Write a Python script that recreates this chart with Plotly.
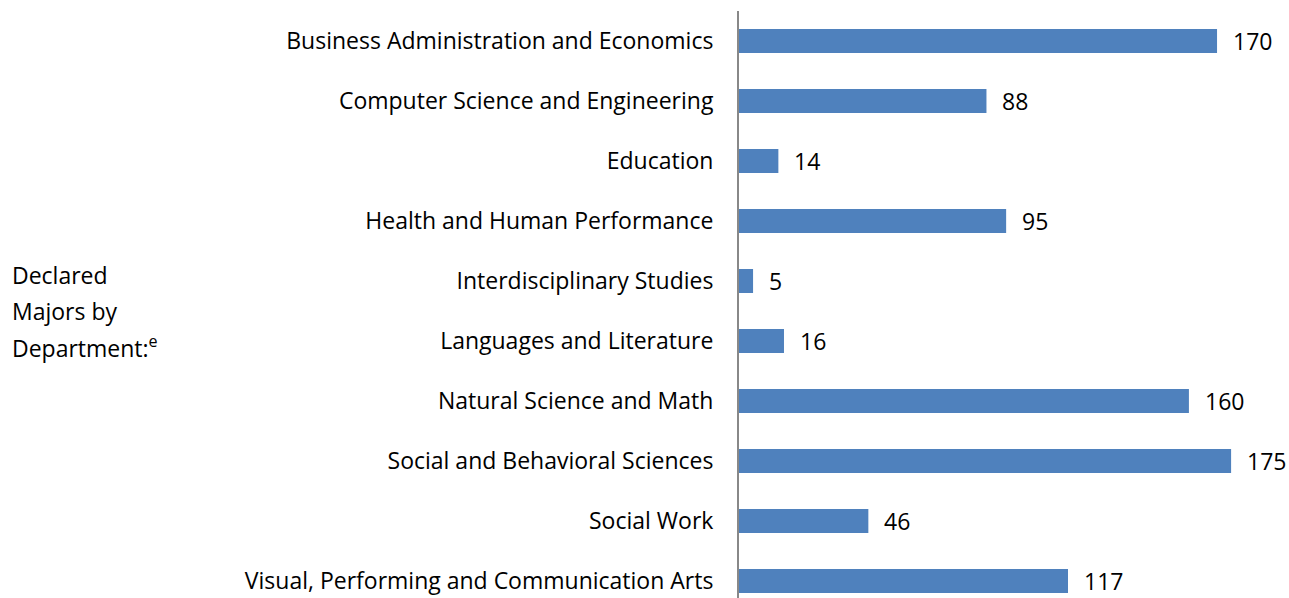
import plotly.graph_objects as go

categories = [
    "Business Administration and Economics",
    "Computer Science and Engineering",
    "Education",
    "Health and Human Performance",
    "Interdisciplinary Studies",
    "Languages and Literature",
    "Natural Science and Math",
    "Social and Behavioral Sciences",
    "Social Work",
    "Visual, Performing and Communication Arts",
]
values = [170, 88, 14, 95, 5, 16, 160, 175, 46, 117]
title_lines = ["Declared", "Majors by", "Department:<sup>e</sup>"]

FONT = "Open Sans"
FS = 23
W, H = 1289, 598
L, T = 739, 11
PW, PH = W - L, H - T
PX_PER_CAT = 60
span = PH / PX_PER_CAT

fig = go.Figure(go.Bar(
    x=values, y=categories, orientation="h",
    marker=dict(color="#4F81BD", line=dict(width=0)),
    width=0.4, hoverinfo="x+y",
))

for c, v in zip(categories, values):
    fig.add_annotation(x=v, y=c, text=str(v), showarrow=False,
                       xanchor="left", yanchor="middle", xshift=14,
                       font=dict(family=FONT, size=FS, color="#000000"))

for i, line in enumerate(title_lines):
    ypix = 275 + 36 * i
    fig.add_annotation(xref="paper", yref="paper",
                       x=(10 - L) / PW, y=1 - (ypix - T) / PH,
                       xanchor="left", yanchor="middle", align="left", showarrow=False,
                       text=line, font=dict(family=FONT, size=FS, color="#000000"))

fig.update_layout(
    width=W, height=H,
    margin=dict(l=L, r=0, t=T, b=0, autoexpand=False),
    plot_bgcolor="white", paper_bgcolor="white",
    showlegend=False,
    font=dict(family=FONT, size=FS, color="#000000"),
    xaxis=dict(range=[0, PW / 2.812], showgrid=False, zeroline=False,
               showline=False, showticklabels=False, ticks=""),
    yaxis=dict(type="category", range=[-0.5 + span, -0.5], showgrid=False,
               zeroline=False, showline=True, linecolor="#888888", linewidth=2,
               ticks="", ticklabelstandoff=19, automargin=False,
               tickfont=dict(family=FONT, size=FS, color="#000000")),
)

fig.write_html("out.html", config={"displayModeBar": False},
               post_script="document.body.style.margin='0px';document.body.style.overflow='hidden';")
